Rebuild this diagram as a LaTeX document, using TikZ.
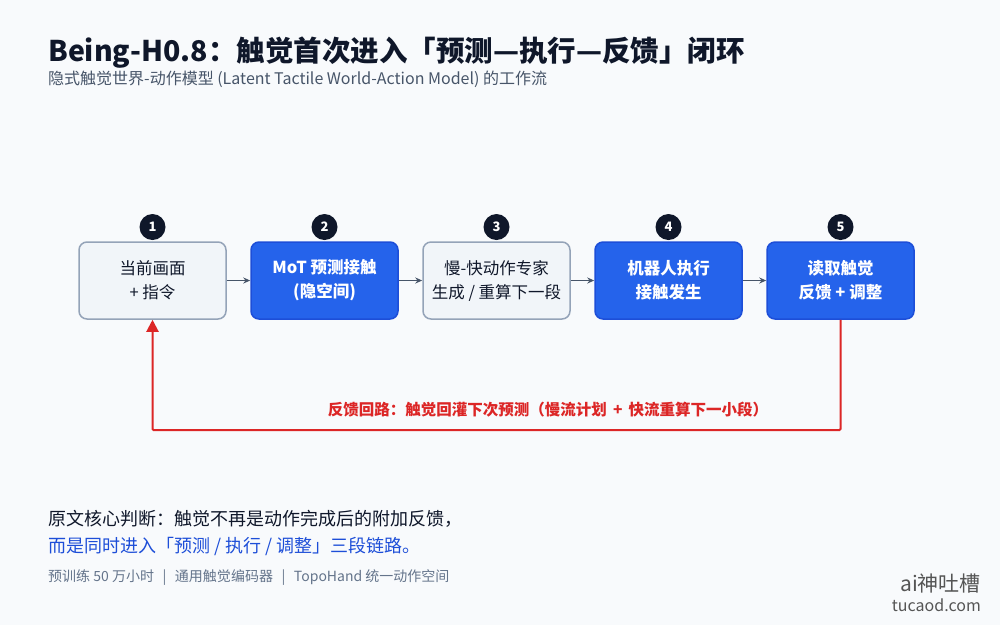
\documentclass[tikz,border=0pt]{standalone}
\usepackage{fontspec}
\setmainfont{Noto Sans CJK SC}
\usetikzlibrary{arrows.meta}
\definecolor{bg}{HTML}{F8FAFC}
\definecolor{ink}{HTML}{0F172A}
\definecolor{sub}{HTML}{475569}
\definecolor{lightfill}{HTML}{F1F5F9}
\definecolor{lightline}{HTML}{94A3B8}
\definecolor{bluefill}{HTML}{2563EB}
\definecolor{blueline}{HTML}{1D4ED8}
\definecolor{redc}{HTML}{DC2626}
\definecolor{gray1}{HTML}{64748B}
\definecolor{wm}{HTML}{555555}
\tikzset{
  box/.style={rounded corners=8pt, line width=1.5pt, minimum width=147pt, minimum height=77pt, align=center, inner sep=0pt},
  lightbox/.style={box, draw=lightline, fill=lightfill, text=ink, font=\fontsize{16.5}{24}\selectfont},
  bluebox/.style={box, draw=blueline, fill=bluefill, text=white, font=\fontsize{16.5}{24}\selectfont\bfseries},
  badge/.style={circle, fill=ink, text=white, minimum size=26pt, inner sep=0pt, font=\fontsize{13}{13}\selectfont\bfseries},
  flow/.style={draw=sub, line width=1.2pt, -{Stealth[length=7pt,width=6pt]}},
  fb/.style={draw=redc, line width=2pt, rounded corners=1pt},
}
\begin{document}
\begin{tikzpicture}[x=1pt,y=-1pt]
\fill[bg] (0,0) rectangle (1000,625);
\useasboundingbox (0,0) rectangle (1000,625);
\node[anchor=base west, text=ink, font=\fontsize{28.5}{32}\selectfont\bfseries, inner sep=0pt] (title) at (48,61) {Being-H0.8：触觉首次进入「预测—执行—反馈」闭环};
\node[anchor=base west, text=sub, font=\fontsize{16}{18}\selectfont, inner sep=0pt] (subtitle) at (48,84) {隐式触觉世界-动作模型 (Latent Tactile World-Action Model) 的工作流};

\node[lightbox] (b1) at (152.5,280.5) {当前画面\\+\ 指令};
\node[bluebox] (b2) at (324.5,280.5) {MoT 预测接触\\(隐空间)};
\node[lightbox] (b3) at (496.5,280.5) {慢-快动作专家\\生成 / 重算下一段};
\node[bluebox] (b4) at (668.5,280.5) {机器人执行\\接触发生};
\node[bluebox] (b5) at (840.5,280.5) {读取触觉\\反馈\ +\ 调整};

\node[badge] (n1) at (152.5,227) {1};
\node[badge] (n2) at (324.5,227) {2};
\node[badge] (n3) at (496.5,227) {3};
\node[badge] (n4) at (668.5,227) {4};
\node[badge] (n5) at (840.5,227) {5};

\draw[flow] (b1.east) -- (b2.west);
\draw[flow] (b2.east) -- (b3.west);
\draw[flow] (b3.east) -- (b4.west);
\draw[flow] (b4.east) -- (b5.west);

\coordinate (c1) at (840.5,430);
\coordinate (c2) at (152.5,430);
\draw[fb, -{Triangle[length=12pt,width=12pt]}] (b5.south) -- (c1) -- (c2) -- (b1.south);
\node[anchor=base, text=redc, font=\fontsize{15.5}{18}\selectfont\bfseries, inner sep=0pt] (fblabel) at (548,415.5) {反馈回路：触觉回灌下次预测（慢流计划 \,+\, 快流重算下一小段）};

\node[anchor=base west, text=ink, font=\fontsize{18}{20}\selectfont, inner sep=0pt] (q1) at (48,525) {原文核心判断：触觉不再是动作完成后的附加反馈，};
\node[anchor=base west, text=blueline, font=\fontsize{18}{20}\selectfont, inner sep=0pt] (q2) at (48,552) {而是同时进入「预测 / 执行 / 调整」三段链路。};
\node[anchor=base west, text=gray1, font=\fontsize{14}{14}\selectfont, inner sep=0pt] (foot) at (48,581) {预训练 50 万小时 \ \,|\ \, 通用触觉编码器 \ \,|\ \, TopoHand 统一动作空间};

\node[anchor=base east, text=wm, font=\fontsize{21}{24}\selectfont, inner sep=0pt] (wm1) at (981,591) {ai神吐槽};
\node[anchor=base east, text=wm, font=\fontsize{16}{18}\selectfont, inner sep=0pt] (wm2) at (981,611) {tucaod.com};
\end{tikzpicture}
\end{document}
